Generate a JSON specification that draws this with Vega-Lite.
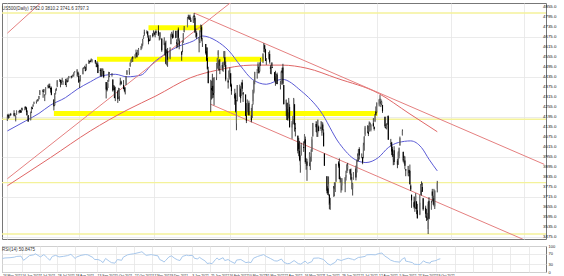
{
"$schema": "https://vega.github.io/schema/vega-lite/v6.json",
"padding": {"left": 0, "top": 2, "right": 0, "bottom": 0},
"background": "white",
"spacing": 3,
"config": {
 "view": {"stroke": "#777777", "strokeWidth": 1},
 "axis": {"labelFont": "Liberation Sans", "labelFontSize": 4.2, "labelColor": "#222222", "gridColor": "#e6e6e6", "gridWidth": 0.8, "domain": false, "ticks": false, "title": null, "labelOverlap": false}
},
"datasets": {
 "ohlc": [
{"d":"2021-05-24","o":4170,"h":4209,"l":4170,"c":4197},{"d":"2021-05-25","o":4205,"h":4213,"l":4182,"c":4188},{"d":"2021-05-26","o":4191,"h":4202,"l":4187,"c":4195},{"d":"2021-05-27","o":4201,"h":4213,"l":4198,"c":4200},{"d":"2021-05-28","o":4210,"h":4218,"l":4203,"c":4204},
{"d":"2021-06-01","o":4216,"h":4234,"l":4197,"c":4202},{"d":"2021-06-02","o":4207,"h":4217,"l":4198,"c":4208},{"d":"2021-06-03","o":4191,"h":4204,"l":4167,"c":4193},{"d":"2021-06-04","o":4207,"h":4233,"l":4206,"c":4230},{"d":"2021-06-07","o":4229,"h":4232,"l":4215,"c":4226},{"d":"2021-06-08","o":4234,"h":4237,"l":4218,"c":4227},{"d":"2021-06-09","o":4233,"h":4237,"l":4218,"c":4220},{"d":"2021-06-10","o":4229,"h":4249,"l":4220,"c":4239},{"d":"2021-06-11","o":4243,"h":4249,"l":4233,"c":4247},{"d":"2021-06-14","o":4249,"h":4255,"l":4234,"c":4255},{"d":"2021-06-15","o":4255,"h":4257,"l":4238,"c":4246},{"d":"2021-06-16","o":4249,"h":4252,"l":4203,"c":4223},{"d":"2021-06-17","o":4220,"h":4233,"l":4205,"c":4222},{"d":"2021-06-18","o":4204,"h":4205,"l":4165,"c":4166},{"d":"2021-06-21","o":4174,"h":4226,"l":4174,"c":4224},{"d":"2021-06-22","o":4225,"h":4255,"l":4217,"c":4246},{"d":"2021-06-23","o":4249,"h":4256,"l":4240,"c":4241},{"d":"2021-06-24","o":4257,"h":4271,"l":4256,"c":4266},{"d":"2021-06-25","o":4274,"h":4286,"l":4271,"c":4281},{"d":"2021-06-28","o":4285,"h":4292,"l":4274,"c":4291},{"d":"2021-06-29","o":4293,"h":4300,"l":4286,"c":4291},{"d":"2021-06-30","o":4291,"h":4302,"l":4288,"c":4297},
{"d":"2021-07-01","o":4300,"h":4320,"l":4300,"c":4320},{"d":"2021-07-02","o":4327,"h":4355,"l":4325,"c":4352},{"d":"2021-07-06","o":4357,"h":4359,"l":4309,"c":4344},{"d":"2021-07-07","o":4351,"h":4362,"l":4340,"c":4358},{"d":"2021-07-08","o":4321,"h":4331,"l":4289,"c":4320},{"d":"2021-07-09","o":4329,"h":4372,"l":4329,"c":4370},{"d":"2021-07-12","o":4373,"h":4387,"l":4365,"c":4385},{"d":"2021-07-13","o":4381,"h":4393,"l":4368,"c":4369},{"d":"2021-07-14","o":4380,"h":4394,"l":4365,"c":4374},{"d":"2021-07-15","o":4369,"h":4370,"l":4340,"c":4360},{"d":"2021-07-16","o":4368,"h":4376,"l":4324,"c":4327},{"d":"2021-07-19","o":4297,"h":4301,"l":4233,"c":4258},{"d":"2021-07-20","o":4265,"h":4337,"l":4262,"c":4323},{"d":"2021-07-21","o":4331,"h":4359,"l":4329,"c":4359},{"d":"2021-07-22","o":4361,"h":4369,"l":4351,"c":4368},{"d":"2021-07-23","o":4381,"h":4415,"l":4373,"c":4412},{"d":"2021-07-26","o":4409,"h":4422,"l":4405,"c":4422},{"d":"2021-07-27","o":4416,"h":4416,"l":4372,"c":4401},{"d":"2021-07-28","o":4403,"h":4415,"l":4387,"c":4400},{"d":"2021-07-29","o":4407,"h":4429,"l":4405,"c":4419},{"d":"2021-07-30","o":4395,"h":4412,"l":4386,"c":4395},
{"d":"2021-08-02","o":4406,"h":4422,"l":4385,"c":4387},{"d":"2021-08-03","o":4392,"h":4424,"l":4373,"c":4423},{"d":"2021-08-04","o":4415,"h":4416,"l":4400,"c":4403},{"d":"2021-08-05","o":4408,"h":4430,"l":4404,"c":4429},{"d":"2021-08-06","o":4429,"h":4440,"l":4425,"c":4437},{"d":"2021-08-09","o":4438,"h":4440,"l":4425,"c":4432},{"d":"2021-08-10","o":4436,"h":4445,"l":4430,"c":4436},{"d":"2021-08-11","o":4442,"h":4449,"l":4437,"c":4447},{"d":"2021-08-12","o":4446,"h":4461,"l":4436,"c":4460},{"d":"2021-08-13","o":4465,"h":4468,"l":4460,"c":4468},{"d":"2021-08-16","o":4461,"h":4480,"l":4437,"c":4479},{"d":"2021-08-17","o":4462,"h":4467,"l":4434,"c":4448},{"d":"2021-08-18","o":4440,"h":4455,"l":4400,"c":4400},{"d":"2021-08-19","o":4382,"h":4418,"l":4368,"c":4406},{"d":"2021-08-20","o":4410,"h":4444,"l":4407,"c":4442},{"d":"2021-08-23","o":4450,"h":4489,"l":4450,"c":4480},{"d":"2021-08-24","o":4484,"h":4493,"l":4482,"c":4486},{"d":"2021-08-25","o":4490,"h":4501,"l":4485,"c":4496},{"d":"2021-08-26","o":4493,"h":4495,"l":4468,"c":4470},{"d":"2021-08-27","o":4474,"h":4513,"l":4474,"c":4509},{"d":"2021-08-30","o":4514,"h":4537,"l":4513,"c":4529},{"d":"2021-08-31","o":4529,"h":4531,"l":4515,"c":4523},
{"d":"2021-09-01","o":4528,"h":4537,"l":4522,"c":4524},{"d":"2021-09-02","o":4535,"h":4545,"l":4527,"c":4537},{"d":"2021-09-03","o":4532,"h":4541,"l":4521,"c":4535},{"d":"2021-09-07","o":4536,"h":4536,"l":4513,"c":4520},{"d":"2021-09-08","o":4518,"h":4521,"l":4493,"c":4514},{"d":"2021-09-09","o":4513,"h":4529,"l":4492,"c":4493},{"d":"2021-09-10","o":4507,"h":4521,"l":4457,"c":4458},{"d":"2021-09-13","o":4475,"h":4486,"l":4438,"c":4469},{"d":"2021-09-14","o":4479,"h":4485,"l":4435,"c":4443},{"d":"2021-09-15","o":4447,"h":4486,"l":4438,"c":4481},{"d":"2021-09-16","o":4477,"h":4485,"l":4448,"c":4474},{"d":"2021-09-17","o":4470,"h":4471,"l":4427,"c":4433},{"d":"2021-09-20","o":4403,"h":4403,"l":4305,"c":4358},{"d":"2021-09-21","o":4375,"h":4395,"l":4347,"c":4354},{"d":"2021-09-22","o":4367,"h":4416,"l":4367,"c":4396},{"d":"2021-09-23","o":4406,"h":4465,"l":4406,"c":4449},{"d":"2021-09-24","o":4438,"h":4463,"l":4433,"c":4455},{"d":"2021-09-27","o":4442,"h":4457,"l":4436,"c":4443},{"d":"2021-09-28","o":4419,"h":4419,"l":4346,"c":4353},{"d":"2021-09-29","o":4362,"h":4385,"l":4355,"c":4360},{"d":"2021-09-30","o":4370,"h":4382,"l":4306,"c":4308},
{"d":"2021-10-01","o":4317,"h":4375,"l":4289,"c":4357},{"d":"2021-10-04","o":4348,"h":4355,"l":4278,"c":4300},{"d":"2021-10-05","o":4310,"h":4369,"l":4304,"c":4346},{"d":"2021-10-06","o":4319,"h":4365,"l":4290,"c":4363},{"d":"2021-10-07","o":4384,"h":4429,"l":4384,"c":4399},{"d":"2021-10-08","o":4406,"h":4412,"l":4386,"c":4391},{"d":"2021-10-11","o":4385,"h":4415,"l":4360,"c":4361},{"d":"2021-10-12","o":4368,"h":4374,"l":4342,"c":4351},{"d":"2021-10-13","o":4358,"h":4372,"l":4329,"c":4363},{"d":"2021-10-14","o":4386,"h":4439,"l":4386,"c":4438},{"d":"2021-10-15","o":4447,"h":4475,"l":4447,"c":4471},{"d":"2021-10-18","o":4464,"h":4488,"l":4447,"c":4486},{"d":"2021-10-19","o":4497,"h":4520,"l":4496,"c":4520},{"d":"2021-10-20","o":4524,"h":4540,"l":4519,"c":4536},{"d":"2021-10-21","o":4532,"h":4551,"l":4527,"c":4549},{"d":"2021-10-22","o":4553,"h":4559,"l":4524,"c":4545},{"d":"2021-10-25","o":4553,"h":4572,"l":4545,"c":4567},{"d":"2021-10-26","o":4578,"h":4598,"l":4570,"c":4575},{"d":"2021-10-27","o":4580,"h":4584,"l":4551,"c":4552},{"d":"2021-10-28","o":4562,"h":4597,"l":4562,"c":4596},{"d":"2021-10-29","o":4572,"h":4608,"l":4567,"c":4605},
{"d":"2021-11-01","o":4611,"h":4620,"l":4595,"c":4613},{"d":"2021-11-02","o":4613,"h":4635,"l":4604,"c":4631},{"d":"2021-11-03","o":4630,"h":4663,"l":4621,"c":4660},{"d":"2021-11-04","o":4662,"h":4683,"l":4662,"c":4680},{"d":"2021-11-05","o":4699,"h":4718,"l":4681,"c":4697},{"d":"2021-11-08","o":4702,"h":4714,"l":4694,"c":4701},{"d":"2021-11-09","o":4707,"h":4708,"l":4670,"c":4685},{"d":"2021-11-10","o":4670,"h":4684,"l":4630,"c":4646},{"d":"2021-11-11","o":4659,"h":4664,"l":4648,"c":4650},{"d":"2021-11-12","o":4656,"h":4685,"l":4651,"c":4683},{"d":"2021-11-15","o":4689,"h":4697,"l":4672,"c":4682},{"d":"2021-11-16","o":4679,"h":4714,"l":4679,"c":4701},{"d":"2021-11-17","o":4701,"h":4701,"l":4684,"c":4689},{"d":"2021-11-18","o":4700,"h":4708,"l":4672,"c":4705},{"d":"2021-11-19","o":4708,"h":4718,"l":4687,"c":4698},{"d":"2021-11-22","o":4712,"h":4744,"l":4680,"c":4683},{"d":"2021-11-23","o":4679,"h":4701,"l":4653,"c":4691},{"d":"2021-11-24","o":4675,"h":4702,"l":4659,"c":4701},{"d":"2021-11-26","o":4665,"h":4665,"l":4585,"c":4595},{"d":"2021-11-29","o":4628,"h":4672,"l":4625,"c":4655},{"d":"2021-11-30","o":4640,"h":4647,"l":4560,"c":4567},
{"d":"2021-12-01","o":4602,"h":4652,"l":4510,"c":4513},{"d":"2021-12-02","o":4504,"h":4595,"l":4504,"c":4577},{"d":"2021-12-03","o":4589,"h":4608,"l":4495,"c":4538},{"d":"2021-12-06","o":4548,"h":4612,"l":4540,"c":4592},{"d":"2021-12-07","o":4631,"h":4694,"l":4631,"c":4686},{"d":"2021-12-08","o":4690,"h":4705,"l":4674,"c":4701},{"d":"2021-12-09","o":4691,"h":4695,"l":4665,"c":4667},{"d":"2021-12-10","o":4687,"h":4713,"l":4670,"c":4712},{"d":"2021-12-13","o":4711,"h":4711,"l":4666,"c":4669},{"d":"2021-12-14","o":4642,"h":4660,"l":4606,"c":4634},{"d":"2021-12-15","o":4636,"h":4712,"l":4611,"c":4709},{"d":"2021-12-16","o":4719,"h":4731,"l":4651,"c":4669},{"d":"2021-12-17","o":4653,"h":4666,"l":4600,"c":4621},{"d":"2021-12-20","o":4587,"h":4587,"l":4531,"c":4568},{"d":"2021-12-21","o":4595,"h":4651,"l":4583,"c":4649},{"d":"2021-12-22","o":4645,"h":4697,"l":4639,"c":4697},{"d":"2021-12-23","o":4703,"h":4740,"l":4703,"c":4725},{"d":"2021-12-27","o":4733,"h":4792,"l":4733,"c":4791},{"d":"2021-12-28","o":4795,"h":4808,"l":4780,"c":4786},{"d":"2021-12-29","o":4788,"h":4804,"l":4778,"c":4793},{"d":"2021-12-30","o":4795,"h":4808,"l":4775,"c":4778},{"d":"2021-12-31","o":4775,"h":4787,"l":4765,"c":4766},
{"d":"2022-01-03","o":4778,"h":4797,"l":4758,"c":4797},{"d":"2022-01-04","o":4804,"h":4818,"l":4774,"c":4794},{"d":"2022-01-05","o":4788,"h":4798,"l":4699,"c":4701},{"d":"2022-01-06","o":4693,"h":4726,"l":4671,"c":4696},{"d":"2022-01-07","o":4698,"h":4708,"l":4662,"c":4677},{"d":"2022-01-10","o":4655,"h":4674,"l":4582,"c":4670},{"d":"2022-01-11","o":4669,"h":4714,"l":4638,"c":4713},{"d":"2022-01-12","o":4728,"h":4749,"l":4702,"c":4726},{"d":"2022-01-13","o":4733,"h":4745,"l":4648,"c":4660},{"d":"2022-01-14","o":4637,"h":4666,"l":4614,"c":4663},{"d":"2022-01-18","o":4632,"h":4632,"l":4568,"c":4577},{"d":"2022-01-19","o":4588,"h":4612,"l":4530,"c":4533},{"d":"2022-01-20","o":4548,"h":4611,"l":4477,"c":4483},{"d":"2022-01-21","o":4472,"h":4495,"l":4395,"c":4398},{"d":"2022-01-24","o":4357,"h":4417,"l":4222,"c":4410},{"d":"2022-01-25","o":4367,"h":4411,"l":4298,"c":4356},{"d":"2022-01-26","o":4380,"h":4453,"l":4305,"c":4350},{"d":"2022-01-27","o":4381,"h":4428,"l":4309,"c":4326},{"d":"2022-01-28","o":4337,"h":4432,"l":4264,"c":4432},{"d":"2022-01-31","o":4432,"h":4516,"l":4415,"c":4516},
{"d":"2022-02-01","o":4519,"h":4546,"l":4483,"c":4546},{"d":"2022-02-02","o":4566,"h":4595,"l":4544,"c":4589},{"d":"2022-02-03","o":4535,"h":4542,"l":4470,"c":4477},{"d":"2022-02-04","o":4483,"h":4540,"l":4451,"c":4501},{"d":"2022-02-07","o":4505,"h":4521,"l":4471,"c":4484},{"d":"2022-02-08","o":4481,"h":4526,"l":4465,"c":4522},{"d":"2022-02-09","o":4547,"h":4590,"l":4547,"c":4587},{"d":"2022-02-10","o":4553,"h":4589,"l":4493,"c":4504},{"d":"2022-02-11","o":4506,"h":4527,"l":4408,"c":4419},{"d":"2022-02-14","o":4413,"h":4427,"l":4364,"c":4401},{"d":"2022-02-15","o":4429,"h":4472,"l":4429,"c":4472},{"d":"2022-02-16","o":4456,"h":4490,"l":4418,"c":4475},{"d":"2022-02-17","o":4456,"h":4456,"l":4373,"c":4380},{"d":"2022-02-18","o":4385,"h":4394,"l":4327,"c":4349},{"d":"2022-02-22","o":4333,"h":4363,"l":4267,"c":4305},{"d":"2022-02-23","o":4324,"h":4339,"l":4221,"c":4226},{"d":"2022-02-24","o":4155,"h":4295,"l":4114,"c":4288},{"d":"2022-02-25","o":4299,"h":4385,"l":4287,"c":4385},{"d":"2022-02-28","o":4354,"h":4388,"l":4315,"c":4374},
{"d":"2022-03-01","o":4363,"h":4378,"l":4279,"c":4306},{"d":"2022-03-02","o":4322,"h":4401,"l":4322,"c":4387},{"d":"2022-03-03","o":4401,"h":4417,"l":4345,"c":4363},{"d":"2022-03-04","o":4342,"h":4342,"l":4284,"c":4329},{"d":"2022-03-07","o":4328,"h":4328,"l":4199,"c":4201},{"d":"2022-03-08","o":4202,"h":4277,"l":4157,"c":4171},{"d":"2022-03-09","o":4223,"h":4299,"l":4223,"c":4278},{"d":"2022-03-10","o":4253,"h":4269,"l":4206,"c":4260},{"d":"2022-03-11","o":4279,"h":4292,"l":4202,"c":4204},{"d":"2022-03-14","o":4202,"h":4248,"l":4161,"c":4173},{"d":"2022-03-15","o":4188,"h":4271,"l":4187,"c":4262},{"d":"2022-03-16","o":4288,"h":4357,"l":4268,"c":4357},{"d":"2022-03-17","o":4345,"h":4412,"l":4335,"c":4412},{"d":"2022-03-18","o":4407,"h":4465,"l":4390,"c":4463},{"d":"2022-03-21","o":4462,"h":4481,"l":4424,"c":4461},{"d":"2022-03-22","o":4469,"h":4522,"l":4469,"c":4512},{"d":"2022-03-23","o":4494,"h":4501,"l":4455,"c":4456},{"d":"2022-03-24","o":4469,"h":4520,"l":4465,"c":4520},{"d":"2022-03-25","o":4523,"h":4546,"l":4501,"c":4543},{"d":"2022-03-28","o":4541,"h":4575,"l":4517,"c":4575},{"d":"2022-03-29","o":4602,"h":4637,"l":4582,"c":4632},{"d":"2022-03-30","o":4624,"h":4627,"l":4581,"c":4602},{"d":"2022-03-31","o":4600,"h":4603,"l":4530,"c":4530},
{"d":"2022-04-01","o":4540,"h":4547,"l":4507,"c":4546},{"d":"2022-04-04","o":4547,"h":4583,"l":4539,"c":4583},{"d":"2022-04-05","o":4572,"h":4593,"l":4514,"c":4525},{"d":"2022-04-06","o":4495,"h":4504,"l":4452,"c":4481},{"d":"2022-04-07","o":4474,"h":4521,"l":4450,"c":4500},{"d":"2022-04-08","o":4494,"h":4521,"l":4487,"c":4488},{"d":"2022-04-11","o":4462,"h":4463,"l":4408,"c":4413},{"d":"2022-04-12","o":4437,"h":4471,"l":4381,"c":4397},{"d":"2022-04-13","o":4398,"h":4453,"l":4392,"c":4446},{"d":"2022-04-14","o":4449,"h":4460,"l":4390,"c":4392},{"d":"2022-04-18","o":4385,"h":4410,"l":4359,"c":4391},{"d":"2022-04-19","o":4390,"h":4471,"l":4388,"c":4463},{"d":"2022-04-20","o":4473,"h":4489,"l":4455,"c":4459},{"d":"2022-04-21","o":4490,"h":4513,"l":4385,"c":4393},{"d":"2022-04-22","o":4385,"h":4385,"l":4268,"c":4272},{"d":"2022-04-25","o":4256,"h":4299,"l":4200,"c":4296},{"d":"2022-04-26","o":4279,"h":4279,"l":4175,"c":4175},{"d":"2022-04-27","o":4186,"h":4241,"l":4171,"c":4183},{"d":"2022-04-28","o":4222,"h":4308,"l":4188,"c":4288},{"d":"2022-04-29","o":4253,"h":4270,"l":4131,"c":4132},
{"d":"2022-05-02","o":4130,"h":4169,"l":4062,"c":4155},{"d":"2022-05-03","o":4159,"h":4200,"l":4147,"c":4175},{"d":"2022-05-04","o":4181,"h":4308,"l":4152,"c":4300},{"d":"2022-05-05","o":4270,"h":4270,"l":4106,"c":4147},{"d":"2022-05-06","o":4129,"h":4158,"l":4077,"c":4123},{"d":"2022-05-09","o":4081,"h":4082,"l":3975,"c":3991},{"d":"2022-05-10","o":4036,"h":4068,"l":3958,"c":4001},{"d":"2022-05-11","o":3990,"h":4050,"l":3928,"c":3936},{"d":"2022-05-12","o":3904,"h":3964,"l":3859,"c":3930},{"d":"2022-05-13","o":3963,"h":4039,"l":3963,"c":4024},{"d":"2022-05-16","o":4013,"h":4047,"l":3984,"c":4008},{"d":"2022-05-17","o":4052,"h":4090,"l":4034,"c":4088},{"d":"2022-05-18","o":4060,"h":4076,"l":3913,"c":3924},{"d":"2022-05-19","o":3900,"h":3946,"l":3877,"c":3901},{"d":"2022-05-20","o":3927,"h":3943,"l":3810,"c":3901},{"d":"2022-05-23","o":3920,"h":3982,"l":3898,"c":3974},{"d":"2022-05-24","o":3942,"h":3955,"l":3875,"c":3941},{"d":"2022-05-25","o":3929,"h":3999,"l":3925,"c":3979},{"d":"2022-05-26","o":3985,"h":4075,"l":3985,"c":4058},{"d":"2022-05-27","o":4077,"h":4158,"l":4077,"c":4158},{"d":"2022-05-31","o":4151,"h":4168,"l":4104,"c":4132},
{"d":"2022-06-01","o":4150,"h":4166,"l":4074,"c":4101},{"d":"2022-06-02","o":4096,"h":4177,"l":4074,"c":4177},{"d":"2022-06-03","o":4137,"h":4143,"l":4107,"c":4109},{"d":"2022-06-06","o":4135,"h":4169,"l":4110,"c":4121},{"d":"2022-06-07","o":4097,"h":4164,"l":4081,"c":4161},{"d":"2022-06-08","o":4148,"h":4160,"l":4107,"c":4116},{"d":"2022-06-09","o":4101,"h":4119,"l":4017,"c":4018},{"d":"2022-06-10","o":3974,"h":3974,"l":3901,"c":3901},{"d":"2022-06-13","o":3838,"h":3838,"l":3735,"c":3750},{"d":"2022-06-14","o":3764,"h":3778,"l":3725,"c":3735},{"d":"2022-06-15","o":3765,"h":3837,"l":3722,"c":3790},{"d":"2022-06-16","o":3728,"h":3728,"l":3640,"c":3667},{"d":"2022-06-17","o":3665,"h":3708,"l":3636,"c":3675},{"d":"2022-06-21","o":3716,"h":3779,"l":3716,"c":3765},{"d":"2022-06-22","o":3733,"h":3801,"l":3717,"c":3760},{"d":"2022-06-23","o":3774,"h":3802,"l":3743,"c":3796},{"d":"2022-06-24","o":3805,"h":3913,"l":3805,"c":3912},{"d":"2022-06-27","o":3920,"h":3928,"l":3889,"c":3901},{"d":"2022-06-28","o":3913,"h":3945,"l":3820,"c":3822},{"d":"2022-06-29","o":3826,"h":3836,"l":3800,"c":3819},{"d":"2022-06-30","o":3785,"h":3818,"l":3739,"c":3785},
{"d":"2022-07-01","o":3782,"h":3827,"l":3753,"c":3825},{"d":"2022-07-05","o":3793,"h":3832,"l":3742,"c":3831},{"d":"2022-07-06","o":3831,"h":3871,"l":3812,"c":3845},{"d":"2022-07-07","o":3858,"h":3910,"l":3858,"c":3903},{"d":"2022-07-08","o":3889,"h":3918,"l":3871,"c":3899},{"d":"2022-07-11","o":3880,"h":3880,"l":3847,"c":3855},{"d":"2022-07-12","o":3855,"h":3884,"l":3813,"c":3819},{"d":"2022-07-13","o":3771,"h":3832,"l":3759,"c":3801},{"d":"2022-07-14","o":3764,"h":3797,"l":3722,"c":3790},{"d":"2022-07-15","o":3818,"h":3863,"l":3818,"c":3863},{"d":"2022-07-18","o":3884,"h":3902,"l":3813,"c":3831},{"d":"2022-07-19","o":3861,"h":3937,"l":3861,"c":3937},{"d":"2022-07-20","o":3936,"h":3975,"l":3925,"c":3960},{"d":"2022-07-21","o":3955,"h":3999,"l":3927,"c":3999},{"d":"2022-07-22","o":4001,"h":4012,"l":3938,"c":3962},{"d":"2022-07-25","o":3966,"h":3975,"l":3946,"c":3967},{"d":"2022-07-26","o":3953,"h":3953,"l":3910,"c":3921},{"d":"2022-07-27","o":3951,"h":4039,"l":3946,"c":4024},{"d":"2022-07-28","o":4026,"h":4079,"l":3991,"c":4073},{"d":"2022-07-29","o":4088,"h":4140,"l":4079,"c":4130},
{"d":"2022-08-01","o":4112,"h":4144,"l":4097,"c":4119},{"d":"2022-08-02","o":4105,"h":4141,"l":4079,"c":4091},{"d":"2022-08-03","o":4107,"h":4167,"l":4107,"c":4155},{"d":"2022-08-04","o":4155,"h":4161,"l":4135,"c":4152},{"d":"2022-08-05","o":4115,"h":4151,"l":4107,"c":4145},{"d":"2022-08-08","o":4156,"h":4187,"l":4133,"c":4140},{"d":"2022-08-09","o":4133,"h":4137,"l":4112,"c":4122},{"d":"2022-08-10","o":4170,"h":4211,"l":4163,"c":4210},{"d":"2022-08-11","o":4227,"h":4257,"l":4201,"c":4207},{"d":"2022-08-12","o":4225,"h":4280,"l":4219,"c":4280},{"d":"2022-08-15","o":4269,"h":4301,"l":4257,"c":4297},{"d":"2022-08-16","o":4290,"h":4325,"l":4277,"c":4305},{"d":"2022-08-17","o":4281,"h":4302,"l":4253,"c":4275},{"d":"2022-08-18","o":4273,"h":4292,"l":4264,"c":4284},{"d":"2022-08-19","o":4266,"h":4266,"l":4218,"c":4228},{"d":"2022-08-22","o":4195,"h":4195,"l":4129,"c":4138},{"d":"2022-08-23","o":4134,"h":4150,"l":4123,"c":4128},{"d":"2022-08-24","o":4126,"h":4156,"l":4119,"c":4141},{"d":"2022-08-25","o":4154,"h":4200,"l":4148,"c":4199},{"d":"2022-08-26","o":4198,"h":4203,"l":4057,"c":4057},{"d":"2022-08-29","o":4034,"h":4062,"l":4017,"c":4031},{"d":"2022-08-30","o":4041,"h":4044,"l":3965,"c":3987},{"d":"2022-08-31","o":4001,"h":4015,"l":3955,"c":3955},
{"d":"2022-09-01","o":3937,"h":3970,"l":3904,"c":3967},{"d":"2022-09-02","o":3994,"h":4018,"l":3906,"c":3924},{"d":"2022-09-06","o":3931,"h":3942,"l":3886,"c":3908},{"d":"2022-09-07","o":3910,"h":3987,"l":3906,"c":3980},{"d":"2022-09-08","o":3959,"h":4010,"l":3945,"c":4006},{"d":"2022-09-09","o":4022,"h":4076,"l":4022,"c":4067},{"d":"2022-09-12","o":4084,"h":4119,"l":4083,"c":4110},{"d":"2022-09-13","o":3983,"h":3986,"l":3922,"c":3932},{"d":"2022-09-14","o":3940,"h":3961,"l":3914,"c":3946},{"d":"2022-09-15","o":3933,"h":3957,"l":3880,"c":3901},{"d":"2022-09-16","o":3880,"h":3880,"l":3838,"c":3873},{"d":"2022-09-19","o":3849,"h":3900,"l":3838,"c":3900},{"d":"2022-09-20","o":3875,"h":3877,"l":3837,"c":3856},{"d":"2022-09-21","o":3871,"h":3908,"l":3789,"c":3790},{"d":"2022-09-22","o":3782,"h":3790,"l":3749,"c":3758},{"d":"2022-09-23","o":3727,"h":3727,"l":3648,"c":3693},{"d":"2022-09-26","o":3682,"h":3716,"l":3644,"c":3655},{"d":"2022-09-27","o":3687,"h":3715,"l":3624,"c":3648},{"d":"2022-09-28","o":3651,"h":3736,"l":3641,"c":3720},{"d":"2022-09-29","o":3687,"h":3687,"l":3610,"c":3640},{"d":"2022-09-30","o":3633,"h":3672,"l":3584,"c":3586},
{"d":"2022-10-03","o":3609,"h":3726,"l":3604,"c":3678},{"d":"2022-10-04","o":3726,"h":3791,"l":3726,"c":3791},{"d":"2022-10-05","o":3753,"h":3807,"l":3722,"c":3783},{"d":"2022-10-06","o":3773,"h":3798,"l":3744,"c":3745},{"d":"2022-10-07","o":3706,"h":3706,"l":3631,"c":3640},{"d":"2022-10-10","o":3648,"h":3661,"l":3589,"c":3612},{"d":"2022-10-11","o":3596,"h":3641,"l":3569,"c":3589},{"d":"2022-10-12","o":3590,"h":3618,"l":3575,"c":3577},{"d":"2022-10-13","o":3521,"h":3685,"l":3491,"c":3669},{"d":"2022-10-14","o":3690,"h":3712,"l":3579,"c":3583},{"d":"2022-10-17","o":3638,"h":3691,"l":3638,"c":3677},{"d":"2022-10-18","o":3746,"h":3762,"l":3686,"c":3720},{"d":"2022-10-19","o":3696,"h":3721,"l":3667,"c":3695},{"d":"2022-10-20","o":3706,"h":3762,"l":3657,"c":3666},{"d":"2022-10-21","o":3657,"h":3752,"l":3641,"c":3752},{"d":"2022-10-24","o":3762,"h":3810,"l":3741,"c":3797}
 ],
 "ma50": [
{"d":"2021-05-24","v":4110},{"d":"2021-06-15","v":4170},{"d":"2021-07-01","v":4215},{"d":"2021-07-15","v":4265},{"d":"2021-08-02","v":4310},{"d":"2021-08-16","v":4360},{"d":"2021-09-01","v":4405},{"d":"2021-09-15","v":4440},{"d":"2021-10-01","v":4450},{"d":"2021-10-15","v":4435},{"d":"2021-11-01","v":4445},{"d":"2021-11-15","v":4515},{"d":"2021-12-01","v":4575},{"d":"2021-12-15","v":4615},{"d":"2022-01-03","v":4650},{"d":"2022-01-14","v":4680},{"d":"2022-01-31","v":4650},{"d":"2022-02-15","v":4590},{"d":"2022-03-01","v":4500},{"d":"2022-03-15","v":4420},{"d":"2022-04-01","v":4390},{"d":"2022-04-20","v":4420},{"d":"2022-05-13","v":4350},{"d":"2022-06-05","v":4230},{"d":"2022-06-28","v":4035},{"d":"2022-07-18","v":3935},{"d":"2022-07-30","v":3920},{"d":"2022-08-14","v":3950},{"d":"2022-08-26","v":4010},{"d":"2022-09-07","v":4040},{"d":"2022-09-22","v":4050},{"d":"2022-10-05","v":4010},{"d":"2022-10-14","v":3940},{"d":"2022-10-24","v":3870}
 ],
 "ma200": [
{"d":"2021-05-24","v":3781},{"d":"2021-07-15","v":3950},{"d":"2021-09-01","v":4110},{"d":"2021-10-15","v":4235},{"d":"2021-11-19","v":4320},{"d":"2021-12-31","v":4430},{"d":"2022-02-01","v":4475},{"d":"2022-03-15","v":4505},{"d":"2022-04-20","v":4505},{"d":"2022-05-20","v":4486},{"d":"2022-06-25","v":4426},{"d":"2022-08-14","v":4336},{"d":"2022-09-20","v":4215},{"d":"2022-10-24","v":4105}
 ],
 "trend": [
{"s":"2021-05-24","p1":3823,"e":"2022-02-21","p2":4896},
{"s":"2021-05-24","p1":4697,"e":"2021-07-07","p2":4896},
{"s":"2022-01-04","p1":4818,"e":"2023-03-02","p2":3909},
{"s":"2022-01-24","p1":4270,"e":"2023-03-02","p2":3404}
 ],
 "bands": [
{"s":"2021-11-10","e":"2022-01-14","p":4730},
{"s":"2021-09-09","e":"2022-03-29","p":4540},
{"s":"2021-07-19","e":"2022-08-13","p":4215}
 ],
 "levels": [{"p":4818},{"p":4180},{"p":3799},{"p":3491}],
 "yticks": [{"p":3475},{"p":3535},{"p":3595},{"p":3655},{"p":3715},{"p":3775},{"p":3835},{"p":3895},{"p":3955},{"p":4015},{"p":4075},{"p":4135},{"p":4195},{"p":4255},{"p":4315},{"p":4375},{"p":4435},{"p":4495},{"p":4555},{"p":4615},{"p":4675},{"p":4735},{"p":4795},{"p":4855}],
 "rsi": [
{"d":"2021-05-24","r":52},{"d":"2021-05-27","r":54},{"d":"2021-06-02","r":55},{"d":"2021-06-07","r":57},{"d":"2021-06-10","r":60},{"d":"2021-06-15","r":61},{"d":"2021-06-18","r":45},{"d":"2021-06-22","r":55},{"d":"2021-06-25","r":63},{"d":"2021-06-30","r":66},{"d":"2021-07-02","r":70},{"d":"2021-07-08","r":58},{"d":"2021-07-12","r":67},{"d":"2021-07-16","r":55},{"d":"2021-07-19","r":45},{"d":"2021-07-22","r":60},{"d":"2021-07-26","r":64},{"d":"2021-07-30","r":58},{"d":"2021-08-04","r":60},{"d":"2021-08-09","r":63},{"d":"2021-08-13","r":68},{"d":"2021-08-18","r":52},{"d":"2021-08-20","r":58},{"d":"2021-08-25","r":64},{"d":"2021-08-30","r":67},{"d":"2021-09-02","r":66},{"d":"2021-09-08","r":56},{"d":"2021-09-10","r":48},{"d":"2021-09-14","r":48},{"d":"2021-09-17","r":44},{"d":"2021-09-20","r":36},{"d":"2021-09-23","r":52},{"d":"2021-09-28","r":40},{"d":"2021-09-30","r":36},{"d":"2021-10-04","r":34},{"d":"2021-10-07","r":48},{"d":"2021-10-12","r":45},{"d":"2021-10-14","r":57},{"d":"2021-10-19","r":66},{"d":"2021-10-22","r":68},{"d":"2021-10-26","r":70},{"d":"2021-10-29","r":72},{"d":"2021-11-03","r":76},{"d":"2021-11-05","r":78},{"d":"2021-11-10","r":64},{"d":"2021-11-16","r":67},{"d":"2021-11-19","r":65},{"d":"2021-11-24","r":62},{"d":"2021-11-26","r":48},{"d":"2021-11-30","r":42},{"d":"2021-12-01","r":38},{"d":"2021-12-03","r":44},{"d":"2021-12-07","r":58},{"d":"2021-12-10","r":62},{"d":"2021-12-14","r":52},{"d":"2021-12-17","r":47},{"d":"2021-12-20","r":44},{"d":"2021-12-23","r":60},{"d":"2021-12-28","r":65},{"d":"2021-12-30","r":63},{"d":"2022-01-04","r":64},{"d":"2022-01-06","r":53},{"d":"2022-01-10","r":50},{"d":"2022-01-12","r":57},{"d":"2022-01-14","r":52},{"d":"2022-01-19","r":42},{"d":"2022-01-21","r":33},{"d":"2022-01-24","r":34},{"d":"2022-01-27","r":32},{"d":"2022-01-31","r":48},{"d":"2022-02-02","r":54},{"d":"2022-02-04","r":47},{"d":"2022-02-09","r":55},{"d":"2022-02-11","r":44},{"d":"2022-02-15","r":48},{"d":"2022-02-18","r":41},{"d":"2022-02-23","r":33},{"d":"2022-02-25","r":46},{"d":"2022-03-02","r":48},{"d":"2022-03-08","r":36},{"d":"2022-03-11","r":38},{"d":"2022-03-14","r":36},{"d":"2022-03-17","r":53},{"d":"2022-03-22","r":60},{"d":"2022-03-25","r":63},{"d":"2022-03-29","r":67},{"d":"2022-04-01","r":60},{"d":"2022-04-06","r":52},{"d":"2022-04-11","r":43},{"d":"2022-04-14","r":42},{"d":"2022-04-19","r":50},{"d":"2022-04-22","r":37},{"d":"2022-04-26","r":32},{"d":"2022-04-29","r":33},{"d":"2022-05-04","r":44},{"d":"2022-05-09","r":32},{"d":"2022-05-12","r":30},{"d":"2022-05-17","r":42},{"d":"2022-05-20","r":33},{"d":"2022-05-25","r":40},{"d":"2022-05-27","r":53},{"d":"2022-06-02","r":54},{"d":"2022-06-08","r":48},{"d":"2022-06-13","r":31},{"d":"2022-06-16","r":27},{"d":"2022-06-22","r":38},{"d":"2022-06-24","r":49},{"d":"2022-06-29","r":44},{"d":"2022-07-01","r":47},{"d":"2022-07-07","r":53},{"d":"2022-07-12","r":49},{"d":"2022-07-14","r":46},{"d":"2022-07-19","r":56},{"d":"2022-07-22","r":57},{"d":"2022-07-27","r":60},{"d":"2022-07-29","r":66},{"d":"2022-08-03","r":67},{"d":"2022-08-08","r":66},{"d":"2022-08-12","r":71},{"d":"2022-08-16","r":73},{"d":"2022-08-19","r":62},{"d":"2022-08-23","r":54},{"d":"2022-08-26","r":46},{"d":"2022-08-31","r":40},{"d":"2022-09-06","r":38},{"d":"2022-09-09","r":50},{"d":"2022-09-12","r":55},{"d":"2022-09-13","r":42},{"d":"2022-09-16","r":40},{"d":"2022-09-21","r":36},{"d":"2022-09-23","r":30},{"d":"2022-09-27","r":29},{"d":"2022-09-30","r":29},{"d":"2022-10-04","r":43},{"d":"2022-10-07","r":37},{"d":"2022-10-12","r":34},{"d":"2022-10-13","r":40},{"d":"2022-10-17","r":43},{"d":"2022-10-19","r":44},{"d":"2022-10-21","r":48},{"d":"2022-10-24","r":51}
 ]
},
"vconcat": [
 {
  "width": 544, "height": 236,
  "title": {"text": "US500(Daily)  3762.0 3810.2 3741.6 3797.3", "anchor": "start", "frame": "group", "fontSize": 4.5, "fontWeight": "normal", "font": "Liberation Sans", "color": "#333333", "offset": -7},
  "layer": [
   {
    "data": {"name": "levels"},
    "mark": {"type": "rule", "color": "#f4f29a", "strokeWidth": 1.3},
    "encoding": {"y": {"field": "p", "type": "quantitative", "scale": {"domain": [3461, 4878], "nice": false, "zero": false}, "axis": {"orient": "right", "values": [3475,3535,3595,3655,3715,3775,3835,3895,3955,4015,4075,4135,4195,4255,4315,4375,4435,4495,4555,4615,4675,4735,4795,4855], "labels": false, "grid": true}}}
   },
   {
    "data": {"name": "bands"},
    "mark": {"type": "rule", "color": "#ffff00", "strokeWidth": 5, "clip": true},
    "encoding": {
     "x": {"field": "s", "type": "temporal", "scale": {"type": "utc", "domain": [{"year": 2021, "month": 5, "date": 23, "hours": 12, "utc": true}, {"year": 2023, "month": 2, "date": 26, "utc": true}]}, "axis": {"values": [{"year":2021,"month":5,"date":24,"utc":true},{"year":2021,"month":6,"date":16,"utc":true},{"year":2021,"month":7,"date":7,"utc":true},{"year":2021,"month":7,"date":28,"utc":true},{"year":2021,"month":8,"date":18,"utc":true},{"year":2021,"month":9,"date":13,"utc":true},{"year":2021,"month":10,"date":5,"utc":true},{"year":2021,"month":10,"date":27,"utc":true},{"year":2021,"month":11,"date":17,"utc":true},{"year":2021,"month":12,"date":9,"utc":true},{"year":2022,"month":1,"date":3,"utc":true},{"year":2022,"month":1,"date":25,"utc":true},{"year":2022,"month":2,"date":16,"utc":true},{"year":2022,"month":3,"date":10,"utc":true},{"year":2022,"month":3,"date":31,"utc":true},{"year":2022,"month":4,"date":22,"utc":true},{"year":2022,"month":5,"date":16,"utc":true},{"year":2022,"month":6,"date":7,"utc":true},{"year":2022,"month":6,"date":29,"utc":true},{"year":2022,"month":7,"date":21,"utc":true},{"year":2022,"month":8,"date":12,"utc":true},{"year":2022,"month":9,"date":5,"utc":true},{"year":2022,"month":9,"date":27,"utc":true},{"year":2022,"month":10,"date":19,"utc":true},{"year":2022,"month":11,"date":10,"utc":true},{"year":2022,"month":12,"date":2,"utc":true},{"year":2022,"month":12,"date":24,"utc":true},{"year":2023,"month":1,"date":15,"utc":true},{"year":2023,"month":2,"date":6,"utc":true}], "labels": false, "grid": true}},
     "x2": {"field": "e"},
     "y": {"field": "p", "type": "quantitative"}
    }
   },
   {
    "data": {"name": "ma200"},
    "mark": {"type": "line", "color": "#e06666", "strokeWidth": 1, "interpolate": "monotone", "clip": true},
    "encoding": {"x": {"field": "d", "type": "temporal"}, "y": {"field": "v", "type": "quantitative"}}
   },
   {
    "data": {"name": "ma50"},
    "mark": {"type": "line", "color": "#5b5bd6", "strokeWidth": 1, "interpolate": "monotone", "clip": true},
    "encoding": {"x": {"field": "d", "type": "temporal"}, "y": {"field": "v", "type": "quantitative"}}
   },
   {
    "data": {"name": "trend"},
    "mark": {"type": "rule", "color": "#e58080", "strokeWidth": 1, "clip": true},
    "encoding": {"x": {"field": "s", "type": "temporal"}, "x2": {"field": "e"}, "y": {"field": "p1", "type": "quantitative"}, "y2": {"field": "p2"}}
   },
   {
    "data": {"name": "ohlc"},
    "mark": {"type": "rule", "color": "#111111", "strokeWidth": 0.8, "clip": true},
    "encoding": {"x": {"field": "d", "type": "temporal"}, "y": {"field": "l", "type": "quantitative"}, "y2": {"field": "h"}}
   },
   {
    "data": {"name": "ohlc"},
    "mark": {"type": "bar", "size": 1.1, "clip": true},
    "encoding": {"x": {"field": "d", "type": "temporal"}, "y": {"field": "o", "type": "quantitative"}, "y2": {"field": "c"},
     "color": {"condition": {"test": "datum.c >= datum.o", "value": "#6e6e6e"}, "value": "#000000"}}
   },
   {
    "data": {"name": "yticks"},
    "mark": {"type": "text", "align": "left", "baseline": "middle", "dx": 2, "fontSize": 4.4, "font": "Liberation Sans", "color": "#111111"},
    "encoding": {"x": {"datum": {"year": 2023, "month": 2, "date": 26, "utc": true}, "type": "temporal"}, "y": {"field": "p", "type": "quantitative"}, "text": {"field": "p", "type": "quantitative", "format": ".1f"}}
   }
  ]
 },
 {
  "width": 544, "height": 26,
  "title": {"text": "RSI(14) 50.8475", "anchor": "start", "frame": "group", "fontSize": 4.5, "fontWeight": "normal", "font": "Liberation Sans", "color": "#333333", "offset": -7},
  "data": {"name": "rsi"},
  "mark": {"type": "line", "color": "#a8c8ec", "strokeWidth": 1, "clip": true},
  "encoding": {
   "x": {"field": "d", "type": "temporal", "scale": {"type": "utc", "domain": [{"year": 2021, "month": 5, "date": 23, "hours": 12, "utc": true}, {"year": 2023, "month": 2, "date": 26, "utc": true}]}, "axis": {"values": [{"year":2021,"month":5,"date":24,"utc":true},{"year":2021,"month":6,"date":16,"utc":true},{"year":2021,"month":7,"date":7,"utc":true},{"year":2021,"month":7,"date":28,"utc":true},{"year":2021,"month":8,"date":18,"utc":true},{"year":2021,"month":9,"date":13,"utc":true},{"year":2021,"month":10,"date":5,"utc":true},{"year":2021,"month":10,"date":27,"utc":true},{"year":2021,"month":11,"date":17,"utc":true},{"year":2021,"month":12,"date":9,"utc":true},{"year":2022,"month":1,"date":3,"utc":true},{"year":2022,"month":1,"date":25,"utc":true},{"year":2022,"month":2,"date":16,"utc":true},{"year":2022,"month":3,"date":10,"utc":true},{"year":2022,"month":3,"date":31,"utc":true},{"year":2022,"month":4,"date":22,"utc":true},{"year":2022,"month":5,"date":16,"utc":true},{"year":2022,"month":6,"date":7,"utc":true},{"year":2022,"month":6,"date":29,"utc":true},{"year":2022,"month":7,"date":21,"utc":true},{"year":2022,"month":8,"date":12,"utc":true},{"year":2022,"month":9,"date":5,"utc":true},{"year":2022,"month":9,"date":27,"utc":true},{"year":2022,"month":10,"date":19,"utc":true},{"year":2022,"month":11,"date":10,"utc":true},{"year":2022,"month":12,"date":2,"utc":true},{"year":2022,"month":12,"date":24,"utc":true},{"year":2023,"month":1,"date":15,"utc":true},{"year":2023,"month":2,"date":6,"utc":true}], "labelExpr": "datum.value > 1666300000000 ? '' : utcFormat(datum.value, '%-d %b %Y')", "labelAlign": "left", "labelPadding": 1, "labelBound": false, "labelOverlap": false, "labelFontSize": 3.3, "grid": true}},
   "y": {"field": "r", "type": "quantitative", "scale": {"domain": [0, 100], "nice": false}, "axis": {"orient": "right", "values": [0, 30, 70, 100], "grid": true, "labelPadding": 2, "labelOverlap": false, "labelFontSize": 4}}
  }
 }
]
}
